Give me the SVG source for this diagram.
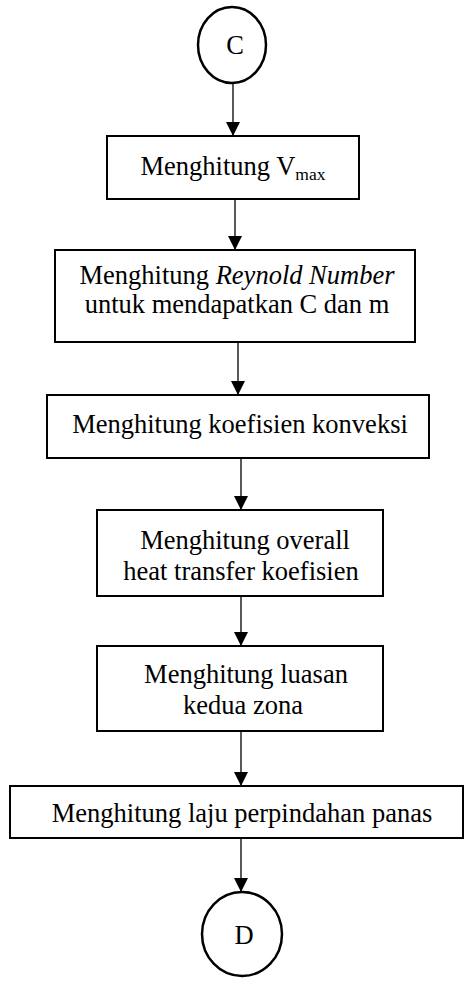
<svg xmlns="http://www.w3.org/2000/svg" width="466" height="985" viewBox="0 0 466 985">
  <style>
    .box { fill: #fff; stroke: #000; stroke-width: 2; }
    .term { fill: #fff; stroke: #000; stroke-width: 2.5; }
    .lbl { font-family: "Liberation Serif", "Times New Roman", serif; font-size: 26.5px; fill: #000; text-anchor: middle; }
    .conn { stroke: #000; stroke-width: 1.3; fill: none; marker-end: url(#arrow); }
  </style>
  <defs>
    <marker id="arrow" markerUnits="userSpaceOnUse" markerWidth="14" markerHeight="16" refX="14" refY="7" orient="auto">
      <path d="M0,0 L14,7 L0,14 Z" fill="#000"/>
    </marker>
  </defs>

  <rect width="466" height="985" fill="#fff"/>

  <!-- connectors -->
  <g id="connectors">
    <line class="conn" x1="233" y1="83" x2="233" y2="136"/>
    <line class="conn" x1="235" y1="199" x2="235" y2="250"/>
    <line class="conn" x1="238" y1="342" x2="238" y2="395"/>
    <line class="conn" x1="241" y1="458" x2="241" y2="510"/>
    <line class="conn" x1="241" y1="596" x2="241" y2="646"/>
    <line class="conn" x1="241" y1="731" x2="241" y2="786"/>
    <line class="conn" x1="241" y1="838" x2="241" y2="892"/>
  </g>

  <!-- start connector C -->
  <g id="node-c">
    <ellipse class="term" cx="232" cy="45" rx="34" ry="38"/>
    <text class="lbl" x="235" y="54">C</text>
  </g>

  <g id="node-vmax">
    <rect class="box" x="107" y="136" width="252" height="63"/>
    <text class="lbl" x="233" y="175">Menghitung V<tspan font-size="17.5px" dy="5">max</tspan></text>
  </g>

  <g id="node-reynold">
    <rect class="box" x="55" y="250" width="360" height="92"/>
    <text class="lbl" x="237" y="284">Menghitung <tspan font-style="italic">Reynold Number</tspan></text>
    <text class="lbl" x="237" y="313">untuk mendapatkan C dan m</text>
  </g>

  <g id="node-konveksi">
    <rect class="box" x="47" y="395" width="382" height="63"/>
    <text class="lbl" x="240" y="433">Menghitung koefisien konveksi</text>
  </g>

  <g id="node-overall">
    <rect class="box" x="97" y="510" width="286" height="86"/>
    <text class="lbl" x="245" y="549">Menghitung overall</text>
    <text class="lbl" x="241" y="580">heat transfer koefisien</text>
  </g>

  <g id="node-luasan">
    <rect class="box" x="97" y="646" width="286" height="85"/>
    <text class="lbl" x="246" y="683">Menghitung luasan</text>
    <text class="lbl" x="243" y="714">kedua zona</text>
  </g>

  <g id="node-laju">
    <rect class="box" x="10" y="786" width="453" height="52"/>
    <text class="lbl" x="242" y="822">Menghitung laju perpindahan panas</text>
  </g>

  <!-- end connector D -->
  <g id="node-d">
    <ellipse class="term" cx="242" cy="934" rx="40" ry="42"/>
    <text class="lbl" x="244" y="944">D</text>
  </g>
</svg>
